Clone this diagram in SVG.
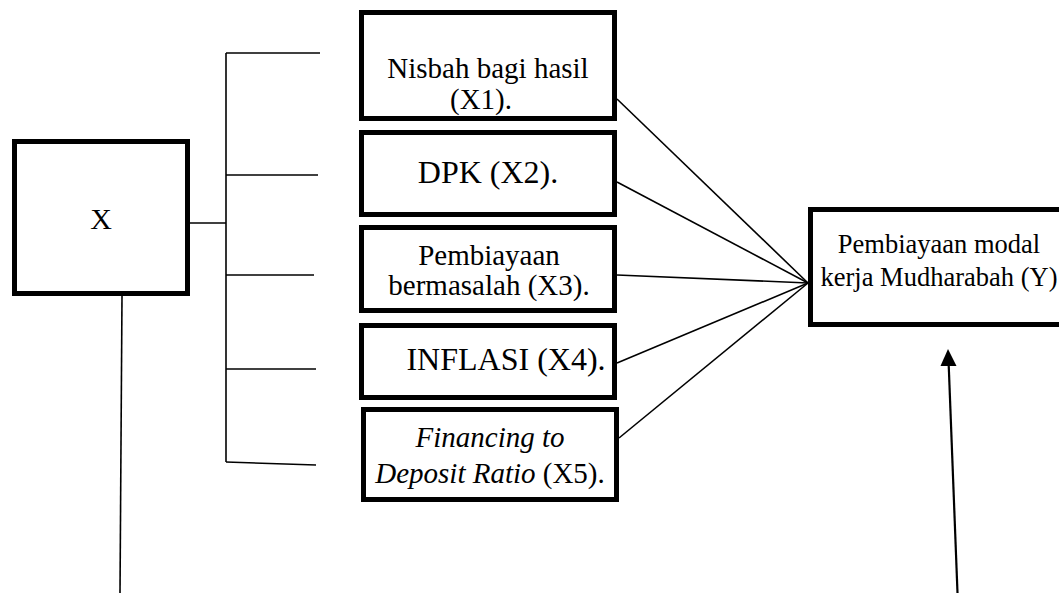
<svg xmlns="http://www.w3.org/2000/svg" width="1059" height="593" viewBox="0 0 1059 593">
<style>
.box{fill:#fff;stroke:#000;stroke-width:5}
.t{font-family:"Liberation Serif","Times New Roman",serif;fill:#000;text-anchor:middle}
.ln{stroke:#000;stroke-width:1.6;fill:none}
</style>
<defs>
<marker id="ah" viewBox="0 0 10 10" refX="9" refY="5" markerWidth="8" markerHeight="8" markerUnits="userSpaceOnUse" orient="auto">
<path d="M0,0 L10,5 L0,10 Z" fill="#000"/>
</marker>
</defs>
<rect width="1059" height="593" fill="#fff"/>
<g id="connectors">
<line class="ln" x1="190" y1="223" x2="226" y2="223"/>
<line class="ln" x1="226" y1="53" x2="226" y2="462"/>
<line class="ln" x1="226" y1="53" x2="320" y2="53"/>
<line class="ln" x1="226" y1="175" x2="318" y2="175"/>
<line class="ln" x1="226" y1="275" x2="314" y2="275"/>
<line class="ln" x1="226" y1="369" x2="316" y2="369"/>
<line class="ln" x1="226" y1="462" x2="316" y2="465"/>
<line class="ln" x1="617" y1="99" x2="808" y2="283"/>
<line class="ln" x1="617" y1="182" x2="808" y2="283"/>
<line class="ln" x1="617" y1="275" x2="808" y2="283"/>
<line class="ln" x1="617" y1="363" x2="808" y2="283"/>
<line class="ln" x1="619" y1="438" x2="808" y2="283"/>
<line class="ln" x1="122" y1="296" x2="120" y2="593"/>
<line stroke="#000" stroke-width="2.2" x1="957.5" y1="593" x2="948.7" y2="365"/>
<path d="M948,349 L956.5,366 L940.5,366 Z" fill="#000"/>
</g>
<g id="node-x">
<rect class="box" x="14.5" y="141.5" width="173" height="152"/>
<text class="t" x="101" y="229" font-size="30">X</text>
</g>
<g id="node-x1">
<rect class="box" x="361.5" y="12.5" width="253" height="106"/>
<text class="t" x="488" y="78" font-size="29">Nisbah bagi hasil</text>
<text class="t" x="481" y="109" font-size="29">(X1).</text>
</g>
<g id="node-x2">
<rect class="box" x="361.5" y="132.5" width="253" height="82"/>
<text class="t" x="488" y="183" font-size="32">DPK (X2).</text>
</g>
<g id="node-x3">
<rect class="box" x="361.5" y="227.5" width="253" height="83"/>
<text class="t" x="489" y="265" font-size="29">Pembiayaan</text>
<text class="t" x="489" y="295" font-size="29">bermasalah (X3).</text>
</g>
<g id="node-x4">
<rect class="box" x="361.5" y="325.5" width="253" height="72"/>
<text class="t" x="506" y="370" font-size="32">INFLASI (X4).</text>
</g>
<g id="node-x5">
<rect class="box" x="363.5" y="409.5" width="253" height="90"/>
<text class="t" x="490" y="447" font-size="29" font-style="italic">Financing to</text>
<text class="t" x="490" y="483" font-size="29"><tspan font-style="italic">Deposit Ratio</tspan> (X5).</text>
</g>
<g id="node-y">
<rect class="box" x="810.5" y="209.5" width="260" height="115"/>
<text class="t" x="939" y="253" font-size="26.5">Pembiayaan modal</text>
<text class="t" x="939" y="286" font-size="26.5">kerja Mudharabah (Y)</text>
</g>
</svg>
